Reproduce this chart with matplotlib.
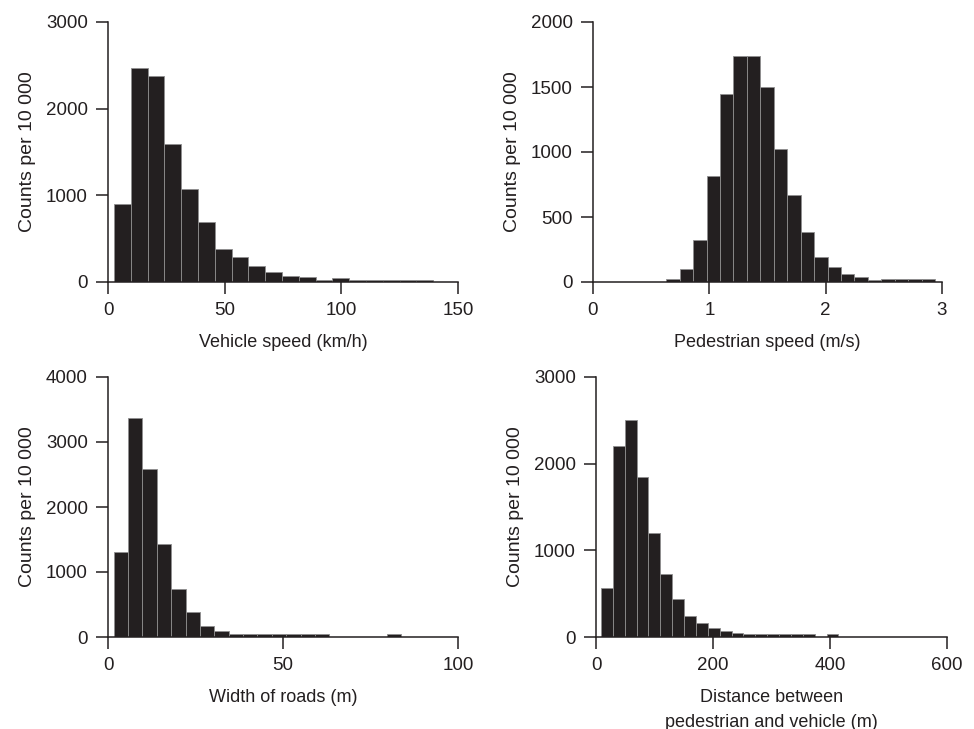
import numpy as np
import matplotlib
matplotlib.use('Agg')
import matplotlib.pyplot as plt

# Font and general style
plt.rcParams['font.family'] = ['Liberation Sans', 'DejaVu Sans']
plt.rcParams['font.size'] = 13

INK = '#231f20'
EDGE = '#8f8f8f'

# Data (counts per 10 000, equal-width bins)
speed_range = (2.6, 139.4)
speed_counts = [904, 2469, 2377, 1596, 1077, 688, 377, 285, 181, 115,
                73, 58, 19, 50, 27, 27, 27, 27, 27]

ped_range = (0.63, 2.94)
ped_counts = [20, 100, 323, 815, 1444, 1735, 1735, 1497, 1020, 669,
              385, 192, 118, 59, 36, 15, 20, 20, 20, 20]

width_range = (1.6, 83.8)
width_counts = [1303, 3364, 2579, 1436, 744, 385, 174, 92, 48, 48,
                48, 48, 48, 48, 48, 0, 0, 0, 0, 41]

dist_range = (8.5, 414.5)
dist_counts = [565, 2204, 2504, 1850, 1196, 723, 435, 238, 158, 100,
               65, 46, 31, 31, 31, 31, 31, 31, 0, 38]

panels = [
    (speed_range, speed_counts, (0, 150), [0, 50, 100, 150], (0, 3000),
     [0, 1000, 2000, 3000], 'Vehicle speed (km/h)', [108, 22, 458, 282]),
    (ped_range, ped_counts, (0, 3), [0, 1, 2, 3], (0, 2000),
     [0, 500, 1000, 1500, 2000], 'Pedestrian speed (m/s)', [593, 22, 942, 282]),
    (width_range, width_counts, (0, 100), [0, 50, 100], (0, 4000),
     [0, 1000, 2000, 3000, 4000], 'Width of roads (m)', [108, 377, 458, 637]),
    (dist_range, dist_counts, (0, 600), [0, 200, 400, 600], (0, 3000),
     [0, 1000, 2000, 3000], 'Distance between\npedestrian and vehicle (m)',
     [596, 377, 947, 637]),
]

W, H = 974, 729
fig = plt.figure(figsize=(W / 100, H / 100), dpi=100)

for rng, counts, xlim, xticks, ylim, yticks, xlabel, box in panels:
    x0, y0, x1, y1 = box
    ax = fig.add_axes([x0 / W, 1 - y1 / H, (x1 - x0) / W, (y1 - y0) / H])
    edges = np.linspace(rng[0], rng[1], len(counts) + 1)
    ax.bar(edges[:-1], counts, width=np.diff(edges), align='edge',
           color=INK, edgecolor=EDGE, linewidth=0.6)
    ax.set_xlim(*xlim)
    ax.set_ylim(*ylim)
    ax.set_xticks(xticks)
    ax.set_yticks(yticks)
    for s in ['top', 'right']:
        ax.spines[s].set_visible(False)
    for s in ['left', 'bottom']:
        ax.spines[s].set_color(INK)
        ax.spines[s].set_linewidth(1.1)
    ax.tick_params(axis='both', direction='out', length=8.5, width=1.1,
                   color=INK, labelcolor=INK, labelsize=13.5)
    ax.tick_params(axis='x', pad=6)
    ax.tick_params(axis='y', pad=6)
    ax.set_xlabel(xlabel, color=INK, labelpad=11, linespacing=1.55)
    ax.set_ylabel('Counts per 10 000', color=INK, labelpad=7, fontsize=14)

fig.savefig('out.png', dpi=100)
